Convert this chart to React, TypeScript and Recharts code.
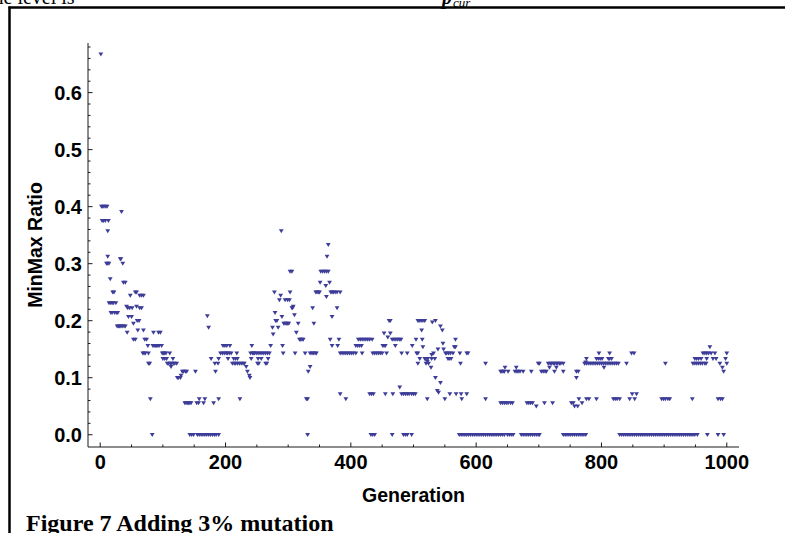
import { Scatter, ScatterChart, XAxis, YAxis } from 'recharts'

// MinMaxRatio per generation in four blocks
const block1: [number, number][] = [
  [1, 0.667],
  [2, 0.4], [4, 0.4], [6, 0.4], [9, 0.4], [11, 0.4],
  [3, 0.375], [5, 0.375], [8, 0.375], [13, 0.375],
  [34, 0.391], [12, 0.357], [12, 0.3125], [32, 0.308], [33, 0.308],
  [10, 0.3], [12, 0.3], [14, 0.3], [36, 0.3],
  [16, 0.273], [37, 0.267], [40, 0.267],
  [20, 0.25], [22, 0.25], [56, 0.25], [58, 0.25],
  [48, 0.244], [63, 0.244], [66, 0.244], [69, 0.244],
  [14, 0.231], [17, 0.231], [19, 0.231], [21, 0.231], [25, 0.231],
  [42, 0.225], [58, 0.225],
  [44, 0.222], [47, 0.222], [51, 0.222], [63, 0.222], [66, 0.222],
  [17, 0.214], [19, 0.214], [23, 0.214], [26, 0.214], [28, 0.214],
  [45, 0.207], [50, 0.207], [59, 0.2], [62, 0.2], [53, 0.195],
  [27, 0.19], [29, 0.19], [31, 0.19], [33, 0.19], [35, 0.19], [38, 0.19], [40, 0.19],
  [60, 0.183], [69, 0.183],
  [43, 0.179], [85, 0.179], [93, 0.179], [96, 0.179],
  [53, 0.167], [56, 0.167], [71, 0.167], [74, 0.167],
  [76, 0.156], [84, 0.156], [86, 0.156], [88, 0.156], [90, 0.156], [92, 0.156], [94, 0.156], [98, 0.156],
  [68, 0.143], [70, 0.143], [72, 0.143], [77, 0.143], [99, 0.143], [101, 0.143], [103, 0.143], [105, 0.143], [111, 0.143],
  [100, 0.133], [103, 0.133], [106, 0.133], [116, 0.133],
  [77, 0.125], [79, 0.125], [107, 0.125], [109, 0.125], [112, 0.125], [114, 0.125], [117, 0.125], [119, 0.125], [122, 0.125],
  [113, 0.119], [80, 0.0625], [83, 0],
  [123, 0.1], [125, 0.1], [128, 0.1], [129, 0.104],
  [131, 0.111], [133, 0.111], [136, 0.111], [138, 0.111], [152, 0.111],
  [135, 0.0556], [137, 0.0556], [139, 0.0556], [141, 0.0556], [143, 0.0556], [145, 0.0556],
  [154, 0.0556], [157, 0.0556], [165, 0.0556], [181, 0.0556],
  [158, 0.0625], [167, 0.0625], [189, 0.0625], [223, 0.0625],
  [143, 0], [146, 0], [149, 0], [155, 0], [158, 0], [161, 0], [164, 0], [167, 0], [170, 0],
  [173, 0], [176, 0], [179, 0], [182, 0], [185, 0], [189, 0],
  [171, 0.208], [173, 0.188], [177, 0.133], [189, 0.133],
  [183, 0.125], [188, 0.125], [211, 0.125], [214, 0.125], [216, 0.125], [219, 0.125],
  [222, 0.125], [225, 0.125], [228, 0.125], [230, 0.125],
  [184, 0.111],
  [192, 0.143], [195, 0.143], [198, 0.143], [201, 0.143], [203, 0.143], [206, 0.143], [209, 0.143],
  [218, 0.143], [240, 0.143], [245, 0.143],
  [196, 0.156], [199, 0.156], [202, 0.156], [207, 0.156], [242, 0.156],
  [204, 0.133], [213, 0.133], [216, 0.133], [219, 0.133], [241, 0.133],
  [233, 0.119], [235, 0.111], [238, 0.104], [239, 0.1],
]

const block2: [number, number][] = [
  [243, 0.143], [246, 0.143], [249, 0.143], [252, 0.143], [255, 0.143], [258, 0.143],
  [261, 0.143], [264, 0.143], [267, 0.143], [270, 0.143],
  [252, 0.133], [257, 0.133], [268, 0.133],
  [251, 0.125], [253, 0.125], [264, 0.125], [266, 0.125],
  [272, 0.156], [275, 0.188], [276, 0.176], [278, 0.25], [279, 0.214], [280, 0.2], [282, 0.2],
  [284, 0.188], [286, 0.236], [288, 0.244], [289, 0.357], [290, 0.207], [291, 0.156], [292, 0.143],
  [293, 0.195], [295, 0.195], [297, 0.195], [299, 0.195], [301, 0.195],
  [295, 0.236], [299, 0.236], [302, 0.236],
  [303, 0.25], [303, 0.286], [306, 0.286], [306, 0.222], [307, 0.222], [308, 0.225], [310, 0.21],
  [311, 0.143], [313, 0.179], [316, 0.195],
  [318, 0.167], [320, 0.167], [322, 0.167], [324, 0.167], [327, 0.143],
  [329, 0.0625], [331, 0.0625], [331, 0], [332, 0.111], [335, 0.119],
  [335, 0.143], [338, 0.143], [340, 0.143], [343, 0.143], [345, 0.143],
  [339, 0.222], [341, 0.195],
  [344, 0.25], [346, 0.25], [348, 0.25], [350, 0.25], [351, 0.267], [352, 0.286], [355, 0.286],
  [358, 0.286], [360, 0.261], [361, 0.242], [361, 0.286], [362, 0.3125], [364, 0.333], [364, 0.286],
  [366, 0.267], [367, 0.167],
  [368, 0.25], [370, 0.25], [372, 0.25], [375, 0.25], [378, 0.25], [383, 0.25],
  [370, 0.207], [370, 0.156], [378, 0.222], [379, 0.156], [381, 0.167],
  [383, 0.143], [386, 0.143], [389, 0.143], [392, 0.143], [395, 0.143], [398, 0.143], [401, 0.143], [404, 0.143],
  [383, 0.0714], [392, 0.0625],
  [408, 0.156], [411, 0.156], [414, 0.156], [417, 0.156], [408, 0.143], [418, 0.143],
  [412, 0.167], [415, 0.167], [418, 0.167], [421, 0.167], [424, 0.167], [427, 0.167], [430, 0.167], [434, 0.167],
  [430, 0.0714], [433, 0.0714], [436, 0.0714],
  [432, 0], [435, 0], [438, 0],
  [435, 0.143], [438, 0.143], [441, 0.143], [444, 0.143], [447, 0.143], [450, 0.143],
  [451, 0.156], [453, 0.156], [455, 0.156], [453, 0.178], [457, 0.143], [455, 0.0714],
  [459, 0.171], [461, 0.2], [463, 0.2], [463, 0.178],
  [466, 0.167], [469, 0.167], [472, 0.167], [475, 0.167], [478, 0.167], [480, 0.167],
  [466, 0], [467, 0.0714], [471, 0.156], [478, 0.0833],
  [481, 0.143], [490, 0.143],
  [481, 0.0714], [484, 0.0714], [487, 0.0714], [490, 0.0714], [493, 0.0714], [497, 0.0714],
  [484, 0], [487, 0], [490, 0], [497, 0], [498, 0.156],
]

const block3: [number, number][] = [
  [500, 0.0714], [503, 0.0714],
  [504, 0.167], [505, 0.143], [507, 0.143], [507, 0.125], [507, 0.2], [509, 0.2], [512, 0.2], [515, 0.2], [518, 0.2],
  [510, 0.133], [513, 0.183], [514, 0.167], [515, 0.154],
  [518, 0.133], [520, 0.133], [520, 0.125], [522, 0.128], [522, 0.0625], [523, 0.133], [524, 0.125],
  [528, 0.118], [529, 0.14], [529, 0.133], [530, 0.197], [532, 0.143], [534, 0.133], [535, 0.2], [535, 0.1],
  [538, 0.077], [539, 0.15], [540, 0.074], [543, 0.19], [543, 0.0909], [546, 0.183], [547, 0.16], [548, 0.15],
  [550, 0.0625], [551, 0.143], [553, 0.143], [555, 0.133], [556, 0.143], [557, 0.133], [558, 0.0714],
  [559, 0.143], [560, 0.133], [563, 0.143],
  [565, 0.154], [567, 0.154], [567, 0.167], [568, 0.0714], [574, 0.143], [575, 0.125], [576, 0.0714], [577, 0.0625],
  [585, 0.143], [587, 0.143], [585, 0.0714], [615, 0.125], [615, 0.0625],
  [573, 0], [576, 0], [579, 0], [582, 0], [585, 0], [588, 0], [591, 0], [594, 0], [597, 0], [600, 0],
  [603, 0], [606, 0], [609, 0], [612, 0], [615, 0], [618, 0], [621, 0], [624, 0], [627, 0], [630, 0],
  [633, 0], [636, 0], [639, 0], [642, 0], [645, 0], [650, 0], [653, 0], [656, 0], [659, 0],
  [639, 0.111], [641, 0.111], [643, 0.111], [645, 0.111], [646, 0.118], [651, 0.111], [662, 0.111],
  [664, 0.118], [665, 0.111], [667, 0.111], [670, 0.111], [675, 0.111], [688, 0.111],
  [639, 0.0556], [642, 0.0556], [645, 0.0556], [648, 0.0556], [651, 0.0556], [655, 0.0556], [658, 0.0556],
  [681, 0.0556], [684, 0.0556], [687, 0.0556], [690, 0.0556], [696, 0.05],
  [672, 0], [675, 0], [678, 0], [681, 0], [684, 0], [687, 0], [690, 0], [693, 0], [696, 0], [699, 0], [701, 0],
  [699, 0.125], [701, 0.125], [704, 0.111], [707, 0.111], [709, 0.0556], [710, 0.111], [712, 0.111],
  [715, 0.125], [717, 0.118], [718, 0.125], [720, 0.125], [722, 0.0556], [723, 0.125], [725, 0.125],
  [725, 0.111], [728, 0.125], [728, 0.118], [730, 0.125], [733, 0.125], [735, 0.125], [739, 0.125], [739, 0.111],
  [739, 0], [742, 0], [745, 0], [748, 0],
]

const block4: [number, number][] = [
  [751, 0], [754, 0], [757, 0], [760, 0], [763, 0], [766, 0], [769, 0], [772, 0], [775, 0],
  [752, 0.0556], [755, 0.0556], [757, 0.05], [762, 0.05], [760, 0.1], [760, 0.111], [763, 0.111],
  [764, 0.0625], [769, 0.0556],
  [773, 0.125], [776, 0.125], [779, 0.125], [782, 0.125], [785, 0.125], [788, 0.125], [791, 0.125],
  [794, 0.125], [797, 0.125], [800, 0.125], [803, 0.125], [806, 0.125], [809, 0.125], [812, 0.125],
  [815, 0.125], [818, 0.125], [821, 0.125], [824, 0.125], [827, 0.125],
  [775, 0.127], [776, 0.133], [776, 0.0625], [780, 0.0625], [792, 0.0625],
  [792, 0.133], [795, 0.133], [798, 0.133], [801, 0.133], [796, 0.143], [804, 0.118],
  [811, 0.133], [813, 0.133], [816, 0.133], [813, 0.143],
  [819, 0.0625], [822, 0.0625], [825, 0.0625], [829, 0.0625],
  [840, 0.125], [845, 0.0625], [848, 0.143], [852, 0.143], [849, 0.0714], [853, 0.0625], [856, 0.0714],
  [829, 0], [832, 0], [835, 0], [838, 0], [841, 0], [844, 0], [847, 0], [850, 0], [853, 0], [856, 0],
  [859, 0], [862, 0], [865, 0], [868, 0], [871, 0], [874, 0], [877, 0], [880, 0], [883, 0], [886, 0],
  [889, 0], [892, 0], [895, 0], [898, 0], [901, 0], [904, 0], [907, 0], [910, 0], [913, 0], [916, 0],
  [919, 0], [922, 0], [925, 0], [928, 0], [931, 0], [934, 0], [937, 0], [940, 0], [943, 0], [946, 0],
  [949, 0], [953, 0],
  [896, 0.0625], [899, 0.0625], [902, 0.0625], [906, 0.0625], [909, 0.0625], [902, 0.125], [945, 0.0625],
  [946, 0.125], [949, 0.125], [952, 0.125], [955, 0.125], [958, 0.125], [961, 0.125], [965, 0.125], [967, 0.125],
  [949, 0.133], [952, 0.133], [955, 0.133], [959, 0.133], [968, 0.133], [978, 0.133], [983, 0.133],
  [962, 0.143], [965, 0.143], [968, 0.143], [971, 0.143], [975, 0.143], [981, 0.143], [973, 0.154],
  [969, 0], [986, 0], [995, 0],
  [986, 0.0625], [990, 0.0625], [993, 0.0625],
  [989, 0.125], [993, 0.118], [995, 0.111], [998, 0.133], [1000, 0.125], [1000, 0.143],
]

const xTicks = [
  0, 50, 100, 150, 200, 250, 300, 350, 400, 450, 500,
  550, 600, 650, 700, 750, 800, 850, 900, 950, 1000,
]
const xLabels = [0, 200, 400, 600, 800, 1000]
const yTicks = [
  0, 0.02, 0.04, 0.06, 0.08, 0.1, 0.12, 0.14, 0.16, 0.18, 0.2, 0.22, 0.24, 0.26, 0.28, 0.3,
  0.32, 0.34, 0.36, 0.38, 0.4, 0.42, 0.44, 0.46, 0.48, 0.5, 0.52, 0.54, 0.56, 0.58, 0.6,
  0.62, 0.64, 0.66, 0.68,
]
const yLabels = [0, 0.1, 0.2, 0.3, 0.4, 0.5, 0.6]

const points = [...block1, ...block2, ...block3, ...block4].map(([gen, ratio]) => ({ gen, ratio }))

const W = 785
const H = 533
const PLOT = { left: 88, top: 43, right: 739, bottom: 447 }
const INK = '#1a1a1a'
const DOT = '#3d3d99'
const SANS = '"Liberation Sans", Arial, sans-serif'
const SERIF = '"Liberation Serif", "Times New Roman", serif'

const isIn = (list: number[], v: number) => list.some((l) => Math.abs(l - v) < 1e-6)

function BottomTick(props: any) {
  const { x, payload } = props
  const major = isIn(xLabels, payload.value)
  return (
    <g>
      <line x1={x} x2={x} y1={PLOT.bottom} y2={PLOT.bottom - (major ? 4.5 : 2.5)} stroke={INK} />
      {major && (
        <text x={x} y={PLOT.bottom + 22} textAnchor="middle" fontFamily={SANS} fontWeight="bold" fontSize={20} fill="#000">
          {payload.value}
        </text>
      )}
    </g>
  )
}

function TopTick(props: any) {
  const { x, payload } = props
  const major = isIn(xLabels, payload.value)
  return <line x1={x} x2={x} y1={PLOT.top} y2={PLOT.top + (major ? 4.5 : 2.5)} stroke={INK} />
}

function LeftTick(props: any) {
  const { y, payload } = props
  const major = isIn(yLabels, payload.value)
  return (
    <g>
      <line x1={PLOT.left} x2={PLOT.left + (major ? 4.5 : 2.5)} y1={y} y2={y} stroke={INK} />
      {major && (
        <text x={PLOT.left - 6} y={y} dy="0.36em" textAnchor="end" fontFamily={SANS} fontWeight="bold" fontSize={20} fill="#000">
          {payload.value.toFixed(1)}
        </text>
      )}
    </g>
  )
}

function RightTick(props: any) {
  const { y, payload } = props
  const major = isIn(yLabels, payload.value)
  return <line x1={PLOT.right} x2={PLOT.right - (major ? 4.5 : 2.5)} y1={y} y2={y} stroke={INK} />
}

function Dot(props: any) {
  const { cx, cy } = props
  return <path d={`M${cx - 2.4},${cy - 1.8}h4.8l-2.4,4z`} fill={DOT} />
}

export default function App() {
  const xDomain = [-19.5, 1019.5]
  const yDomain = [-0.0215, 0.687]
  return (
    <div style={{ position: 'absolute', left: 0, top: 0, width: W, height: H, background: '#fff', overflow: 'hidden' }}>
      <ScatterChart
        width={W}
        height={H}
        margin={{ top: PLOT.top, right: W - PLOT.right, bottom: 0, left: 0 }}
      >
        <XAxis
          xAxisId={0}
          type="number"
          dataKey="gen"
          domain={xDomain}
          allowDataOverflow
          ticks={xTicks}
          interval={0}
          height={H - PLOT.bottom}
          axisLine={{ stroke: INK }}
          tickLine={false}
          tick={<BottomTick />}
        />
        <XAxis
          xAxisId="top"
          orientation="top"
          type="number"
          domain={xDomain}
          allowDataOverflow
          ticks={xTicks}
          interval={0}
          height={0}
          axisLine={{ stroke: INK }}
          tickLine={false}
          tick={<TopTick />}
        />
        <YAxis
          yAxisId={0}
          type="number"
          dataKey="ratio"
          domain={yDomain}
          allowDataOverflow
          ticks={yTicks}
          interval={0}
          width={PLOT.left}
          axisLine={{ stroke: INK }}
          tickLine={false}
          tick={<LeftTick />}
        />
        <YAxis
          yAxisId="right"
          orientation="right"
          type="number"
          domain={yDomain}
          allowDataOverflow
          ticks={yTicks}
          interval={0}
          width={0}
          axisLine={{ stroke: INK }}
          tickLine={false}
          tick={<RightTick />}
        />
        <Scatter data={points} shape={<Dot />} isAnimationActive={false} />
      </ScatterChart>
      <svg width={W} height={H} style={{ position: 'absolute', left: 0, top: 0, pointerEvents: 'none' }}>
        <text x={-12} y={4} fontFamily={SERIF} fontSize={20} fill="#000">
          the level is
        </text>
        <text x={442} y={4} fontFamily={SERIF} fontStyle="italic" fontWeight="bold" fontSize={20} fill="#000">
          p
        </text>
        <text x={453} y={7} fontFamily={SERIF} fontStyle="italic" fontSize={13} fill="#000">
          cur
        </text>
        <line x1={8.5} x2={W} y1={7.5} y2={7.5} stroke="#000" strokeWidth={2.5} />
        <line x1={9.5} x2={9.5} y1={6.5} y2={H} stroke="#000" strokeWidth={2.5} />
        <text x={(PLOT.left + PLOT.right) / 2} y={502} textAnchor="middle" fontFamily={SANS} fontWeight="bold" fontSize={19.5} fill="#000">
          Generation
        </text>
        <text
          transform={`translate(42, ${(PLOT.top + PLOT.bottom) / 2}) rotate(-90)`}
          textAnchor="middle"
          fontFamily={SANS}
          fontWeight="bold"
          fontSize={19.5}
          fill="#000"
        >
          MinMax Ratio
        </text>
        <text x={26} y={531} fontFamily={SERIF} fontWeight="bold" fontSize={24} fill="#000">
          Figure 7 Adding 3% mutation
        </text>
      </svg>
    </div>
  )
}
